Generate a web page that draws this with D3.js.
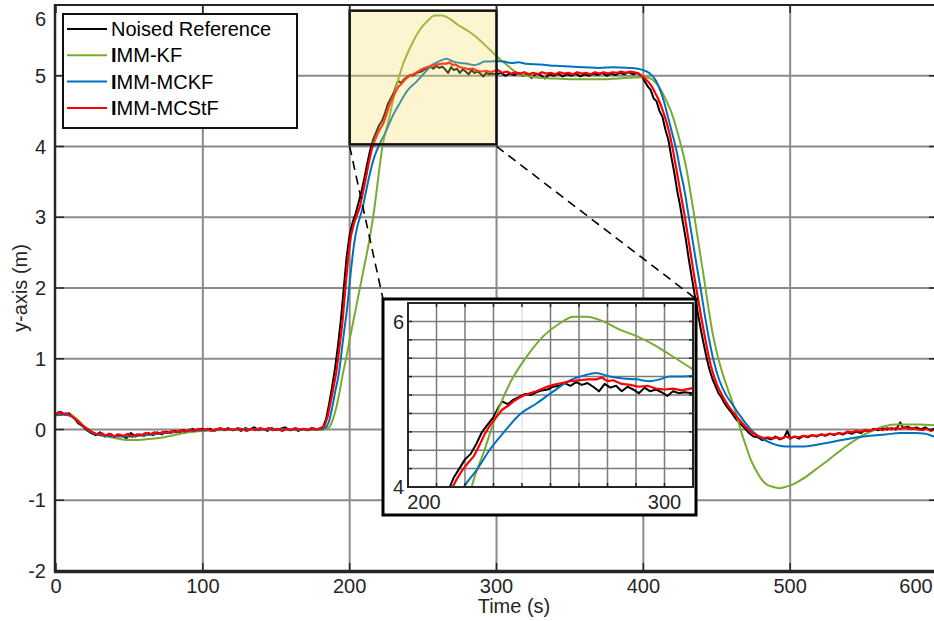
<!DOCTYPE html>
<html>
<head>
<meta charset="utf-8">
<script src="https://cdn.jsdelivr.net/npm/d3@7"></script>
<style>
  html, body { margin: 0; padding: 0; background: #fff; }
  svg { display: block; font-family: "Liberation Sans", Arial, Helvetica, sans-serif; }
</style>
</head>
<body>
<svg id="chart" width="934" height="621"></svg>
<script>
// DATA (time in s, y-axis in m)

const xTicks = [0, 100, 200, 300, 400, 500, 600];
const yTicks = [-2, -1, 0, 1, 2, 3, 4, 5, 6];

const seriesNames = ["Noised Reference", "IMM-KF", "IMM-MCKF", "IMM-MCStF"];

const noisedRef = [
  [0,.22],[3,.25],[6,.21],[9,.23],[12,.17],[15,.09],[18,.05],[21,-.01],[24,-.05],[27,-.08],[30,-.04],
  [33,-.1],[36,-.06],[39,-.11],[42,-.07],[45,-.09],[48,-.12],[51,-.05],[54,-.1],[57,-.07],[60,-.09],
  [63,-.05],[66,-.08],[69,-.04],[72,-.07],[75,-.03],[78,-.05],[81,-.02],[84,-.04],[87,-.01],[90,-.03],
  [93,.01],[96,-.02],[99,.01],[102,-.01],[105,.01],[108,-.02],[111,.01],[114,-.01],[117,.02],[120,-.01],
  [123,.01],[126,-.02],[129,.02],[132,0],[135,.03],[138,-.01],[141,.01],[144,-.02],[147,.02],[150,-.01],
  [153,.01],[156,.03],[159,-.01],[162,.01],[165,-.02],[168,.01],[171,-.01],[174,.02],[177,0],[180,.02],
  [182,.04],[184,.15],[186,.36],[188,.6],[190,.86],[192,1.18],[194,1.55],[196,2.0],[198,2.45],[200,2.75],
  [202,2.93],[204,3.05],[206,3.2],[208,3.36],[210,3.55],[212,3.76],[214,3.95],[216,4.1],[218,4.2],[220,4.3],
  [222,4.36],[224,4.47],[226,4.6],[228,4.68],[230,4.76],[232,4.88],[233,4.93],[235,4.9],[237,4.95],[239,4.98],
  [241,5.01],[243,5.0],[245,5.03],[247,5.05],[249,5.06],[251,5.09],[253,5.1],[255,5.13],[257,5.1],[259,5.14],
  [261,5.11],[263,5.13],[265,5.09],[267,5.04],[269,5.12],[271,5.08],[273,5.1],[275,5.04],[277,5.09],[279,5.06],
  [281,5.02],[283,5.08],[285,5.04],[287,5.06],[289,5.03],[291,4.99],[293,5.04],[295,5.02],[297,5.03],[300,5.02],
  [303,5.04],[306,5.0],[309,5.03],[312,5.01],[315,5.04],[318,5.0],[321,5.02],[324,4.97],[327,5.03],[330,5.01],
  [333,4.96],[336,5.02],[339,5.0],[342,5.03],[345,4.99],[348,5.02],[351,5.0],[354,5.03],[357,4.99],[360,5.02],
  [363,5.0],[366,5.03],[369,5.01],[372,5.04],[375,5.0],[378,5.03],[381,5.01],[384,5.04],[387,5.02],[390,5.05],
  [393,5.02],[396,5.04],[399,4.99],[401,4.92],[403,4.85],[405,4.8],[407,4.68],[409,4.64],[411,4.5],[413,4.42],
  [415,4.24],[417,4.1],[419,3.86],[421,3.64],[423,3.38],[425,3.17],[427,2.92],[429,2.68],[431,2.4],[433,2.15],
  [435,1.9],[437,1.66],[439,1.43],[441,1.22],[443,1.02],[445,.85],[447,.72],[449,.62],[451,.52],[453,.46],
  [455,.38],[457,.32],[460,.24],[463,.15],[466,.08],[469,.02],[472,-.05],[475,-.1],[478,-.11],[481,-.15],
  [484,-.12],[487,-.14],[490,-.1],[493,-.14],[496,-.11],[498,-.02],[500,-.13],[503,-.1],[506,-.13],[509,-.09],
  [512,-.11],[515,-.08],[518,-.1],[521,-.07],[524,-.09],[527,-.06],[530,-.08],[533,-.05],[536,-.07],[539,-.04],
  [542,-.06],[545,-.03],[548,-.05],[551,-.01],[554,-.03],[557,.01],[560,-.01],[563,.02],[566,0],[569,.02],
  [572,0],[575,.1],[577,.02],[580,.04],[583,.01],[586,.03],[589,0],[592,.03],[595,-.01],[598,.01]
];

const immKF = [
  [0,.2],[5,.22],[10,.21],[15,.13],[20,.03],[25,-.04],[30,-.08],[35,-.1],[40,-.12],[45,-.14],[50,-.15],
  [55,-.15],[60,-.14],[70,-.12],[80,-.08],[90,-.04],[100,-.02],[110,-.01],[120,0],[150,0],[180,0],
  [184,.01],[186.4,.04],[188.5,.14],[191,.32],[193,.52],[195.5,.8],[198,1.05],[200,1.27],[204.5,1.74],
  [209,2.21],[213.6,2.7],[217,3.15],[219.7,3.6],[222.5,4.02],[226.5,4.37],[230.6,4.75],[235.8,5.13],
  [241.7,5.42],[247.5,5.64],[253.3,5.78],[258,5.85],[262.7,5.85],[268.5,5.8],[274.3,5.71],[280.2,5.64],
  [286,5.55],[291.8,5.44],[299.4,5.29],[303,5.22],[306.7,5.16],[310,5.1],[313,5.05],[320,5.0],[330,4.97],
  [340,4.96],[350,4.95],[370,4.95],[390,4.97],[400,4.98],[405,4.96],[408.6,4.9],[412,4.8],[415.4,4.66],
  [418.8,4.5],[422.2,4.28],[425.6,4.02],[429,3.72],[432.5,3.3],[435.8,2.87],[441.5,2.11],[447.2,1.36],
  [450.5,1.05],[454,.79],[457.4,.58],[460.8,.38],[463.5,.2],[466.5,-.02],[470,-.24],[473,-.42],[476.6,-.57],
  [480,-.69],[483.5,-.77],[488,-.81],[492.5,-.83],[497,-.81],[501.6,-.78],[506,-.73],[510.7,-.67],[517,-.57],
  [524.3,-.46],[531,-.35],[537.9,-.24],[545,-.14],[551.5,-.06],[558,0],[565,.05],[572,.07],[578.7,.07],
  [588,.07],[598,.06]
];

const immMCKF = [
  [0,.2],[5,.21],[10,.19],[15,.11],[20,.02],[25,-.05],[30,-.08],[35,-.09],[40,-.1],[45,-.1],[50,-.1],
  [55,-.09],[60,-.08],[70,-.06],[80,-.04],[90,-.02],[100,-.01],[110,0],[130,0],[150,0],[170,0],[180,0],
  [183,.02],[186,.12],[188,.3],[190,.52],[192.7,.8],[195.5,1.27],[198.4,1.74],[200.7,2.21],[203,2.62],
  [205,2.85],[207,3.0],[209,3.15],[211,3.35],[213.6,3.6],[216,3.8],[218.6,3.95],[220.7,4.05],[224.2,4.19],
  [228.8,4.41],[233.5,4.59],[239.3,4.79],[245.2,4.91],[251,5.04],[256.8,5.16],[261.5,5.21],[266,5.24],
  [270.8,5.2],[275.5,5.18],[280.2,5.17],[284.8,5.15],[288.3,5.17],[291.8,5.2],[296,5.2],[300,5.21],
  [305,5.2],[310,5.18],[315,5.19],[320,5.17],[330,5.16],[340,5.14],[350,5.13],[360,5.12],[370,5.11],
  [380,5.12],[390,5.11],[396,5.1],[400,5.08],[404,5.04],[408,4.95],[411,4.82],[414,4.64],[417,4.4],
  [420,4.16],[422.5,3.95],[425,3.68],[428,3.38],[431,3.0],[433.5,2.68],[436,2.36],[439.2,1.97],[442,1.6],
  [445,1.25],[448,.96],[451.7,.7],[456,.5],[460.8,.35],[465,.22],[470,.08],[475,-.04],[481,-.13],
  [488,-.2],[497,-.24],[510,-.24],[520,-.21],[530,-.17],[540,-.13],[550,-.1],[565,-.07],[575,-.05],
  [585,-.05],[592,-.06],[598,-.1]
];

const immMCStF = [
  [0,.2],[2,.25],[4,.22],[7,.23],[10,.2],[13,.15],[16,.1],[19,.04],[22,0],[25,-.04],[28,-.07],[31,-.05],
  [34,-.09],[37,-.06],[40,-.1],[43,-.07],[46,-.09],[49,-.06],[52,-.1],[55,-.07],[58,-.08],[61,-.05],
  [64,-.07],[67,-.04],[70,-.06],[73,-.03],[76,-.05],[79,-.02],[82,-.04],[85,-.01],[88,-.03],[91,0],
  [94,-.02],[97,.01],[100,-.01],[103,.01],[106,-.02],[109,0],[112,.02],[115,-.01],[118,.01],[121,-.01],
  [124,.02],[127,0],[130,-.02],[133,.01],[136,-.01],[139,.02],[142,0],[145,.02],[148,-.01],[151,.01],
  [154,-.02],[157,.01],[160,-.01],[163,.02],[166,0],[169,.01],[172,-.01],[175,.02],[178,0],[181,.02],
  [183,.06],[185,.18],[187,.38],[189,.6],[191,.82],[193,1.15],[195,1.5],[197,1.98],[199,2.45],[201,2.75],
  [203,2.92],[205,3.03],[207,3.15],[209,3.35],[211,3.55],[213,3.77],[215,3.96],[217,4.08],[219,4.18],
  [221,4.26],[223,4.33],[225,4.45],[227,4.58],[229,4.68],[231,4.76],[233,4.84],[235,4.88],[237,4.93],
  [239,4.97],[241,5.0],[243,5.02],[245,5.04],[248,5.08],[251,5.11],[254,5.13],[257,5.15],[260,5.16],
  [263,5.17],[266,5.17],[268,5.19],[270,5.15],[272,5.16],[275,5.12],[278,5.11],[281,5.09],[284,5.1],
  [287,5.07],[290,5.06],[293,5.07],[296,5.05],[299,5.07],[301,5.08],[304,5.04],[307,5.06],[310,5.03],
  [313,5.05],[316,5.03],[319,5.05],[322,5.02],[325,5.04],[328,5.02],[331,5.05],[334,5.03],[337,5.04],
  [340,5.02],[343,5.05],[346,5.03],[349,5.04],[352,5.02],[355,5.05],[358,5.03],[361,5.04],[364,5.02],
  [367,5.05],[370,5.03],[373,5.05],[376,5.03],[379,5.05],[382,5.04],[385,5.06],[388,5.04],[391,5.06],
  [394,5.05],[397,5.03],[400,4.98],[402,4.94],[404,4.9],[406,4.84],[408,4.76],[410,4.68],[412,4.58],
  [414,4.46],[416,4.33],[418,4.17],[420,3.97],[422,3.74],[424,3.5],[426,3.27],[428,3.04],[430,2.78],
  [432,2.52],[434,2.25],[436,2.0],[438,1.76],[440,1.52],[442,1.3],[444,1.08],[446,.9],[448,.76],[450,.64],
  [452,.55],[454,.47],[456,.4],[458,.33],[461,.25],[464,.17],[467,.1],[470,.03],[473,-.03],[476,-.07],
  [479,-.1],[482,-.12],[485,-.11],[488,-.13],[491,-.11],[494,-.13],[497,-.1],[500,-.12],[503,-.1],
  [506,-.11],[509,-.09],[512,-.1],[515,-.08],[518,-.09],[521,-.07],[524,-.08],[527,-.06],[530,-.07],
  [533,-.05],[536,-.06],[539,-.03],[542,-.04],[545,-.02],[548,-.03],[551,-.01],[554,-.02],[557,0],
  [560,.01],[563,-.01],[566,.02],[569,0],[572,.02],[575,.01],[578,.03],[581,.01],[584,.02],[587,0],
  [590,-.01],[593,.01],[596,-.02],[598,0]
];

// zoomed region (highlight box in the main axes, and the inset window)
const zoomBoxX = [200, 300];
const zoomBoxY = [4.03, 5.92];
const insetX = [200, 300];
const insetY = [4, 6];
const insetGridX = [210, 220, 230, 240, 250, 260, 270, 280, 290];
const insetGridY = [4.2, 4.4, 4.6, 4.8, 5.0, 5.2, 5.4, 5.6, 5.8];
const insetXLabels = [{ v: 205.6, text: "200" }, { v: 290, text: "300" }];
const insetYLabels = [{ v: 4, text: "4" }, { v: 5.8, text: "6" }];

// SETUP

const svg = d3.select("#chart");
const TXT = "#262626";
const GRID = "#8a8a8a";

const x = d3.scaleLinear().domain([0, 600]).range([56, 937]);
const y = d3.scaleLinear().domain([-2, 6]).range([571, 5]);

const series = [
  { name: seriesNames[0], data: noisedRef, color: "#000000", width: 2, curve: d3.curveLinear },
  { name: seriesNames[1], data: immKF, color: "#77AC30", width: 2, curve: d3.curveMonotoneX },
  { name: seriesNames[2], data: immMCKF, color: "#0072BD", width: 2, curve: d3.curveMonotoneX },
  { name: seriesNames[3], data: immMCStF, color: "#FF0000", width: 2.2, curve: d3.curveLinear },
];

svg.append("rect").attr("width", 934).attr("height", 621).attr("fill", "#fff");

const defs = svg.append("defs");
defs.append("clipPath").attr("id", "plot-clip")
  .append("rect").attr("x", 56).attr("y", 5).attr("width", 881).attr("height", 566);

// MAIN AXES

const gGrid = svg.append("g");
xTicks.filter(t => t > 0 && t < 600).forEach(t => {
  gGrid.append("line")
    .attr("x1", x(t)).attr("x2", x(t)).attr("y1", y(6)).attr("y2", y(-2))
    .attr("stroke", GRID).attr("stroke-width", 2);
});
yTicks.filter(v => v > -2 && v < 6).forEach(v => {
  gGrid.append("line")
    .attr("x1", x(0)).attr("x2", x(600)).attr("y1", y(v)).attr("y2", y(v))
    .attr("stroke", GRID).attr("stroke-width", 2);
});

const gLines = svg.append("g").attr("clip-path", "url(#plot-clip)");
series.forEach(s => {
  const line = d3.line().x(d => x(d[0])).y(d => y(d[1])).curve(s.curve);
  gLines.append("path")
    .attr("d", line(s.data))
    .attr("fill", "none")
    .attr("stroke", s.color)
    .attr("stroke-width", s.width)
    .attr("stroke-linejoin", "round");
});

// highlight box over the zoomed region
svg.append("rect")
  .attr("x", x(zoomBoxX[0])).attr("y", y(zoomBoxY[1]))
  .attr("width", x(zoomBoxX[1]) - x(zoomBoxX[0]))
  .attr("height", y(zoomBoxY[0]) - y(zoomBoxY[1]))
  .attr("fill", "rgb(250,217,100)").attr("fill-opacity", 0.3)
  .attr("stroke", "#111").attr("stroke-width", 2.5);

// spines + ticks
const gAxes = svg.append("g");
gAxes.append("line").attr("x1", 55).attr("x2", 934).attr("y1", 5).attr("y2", 5)
  .attr("stroke", TXT).attr("stroke-width", 2);
gAxes.append("line").attr("x1", 55).attr("x2", 55).attr("y1", 4).attr("y2", 572)
  .attr("stroke", TXT).attr("stroke-width", 2.5);
gAxes.append("line").attr("x1", 54).attr("x2", 934).attr("y1", 571.5).attr("y2", 571.5)
  .attr("stroke", TXT).attr("stroke-width", 3.5);

yTicks.forEach(v => {
  gAxes.append("line").attr("x1", 56).attr("x2", 64).attr("y1", y(v)).attr("y2", y(v))
    .attr("stroke", TXT).attr("stroke-width", 1.5);
  gAxes.append("line").attr("x1", 929).attr("x2", 937).attr("y1", y(v)).attr("y2", y(v))
    .attr("stroke", TXT).attr("stroke-width", 1.5);
  // the top label sits a little lower so it stays inside the picture
  gAxes.append("text")
    .attr("x", 46).attr("y", Math.max(y(v), 19)).attr("dy", "0.36em")
    .attr("text-anchor", "end").attr("font-size", 20).attr("fill", TXT)
    .text(v);
});
xTicks.forEach(t => {
  gAxes.append("line").attr("x1", x(t)).attr("x2", x(t)).attr("y1", 563).attr("y2", 571)
    .attr("stroke", TXT).attr("stroke-width", 1.5);
  gAxes.append("line").attr("x1", x(t)).attr("x2", x(t)).attr("y1", 5).attr("y2", 13)
    .attr("stroke", TXT).attr("stroke-width", 1.5);
  gAxes.append("text")
    .attr("x", Math.min(x(t), 916)).attr("y", 593)
    .attr("text-anchor", "middle").attr("font-size", 20).attr("fill", TXT)
    .text(t);
});

svg.append("text")
  .attr("x", 514).attr("y", 613)
  .attr("text-anchor", "middle").attr("font-size", 20).attr("fill", TXT)
  .text("Time (s)");
svg.append("text")
  .attr("transform", "translate(27,288) rotate(-90)")
  .attr("text-anchor", "middle").attr("font-size", 20).attr("fill", TXT)
  .text("y-axis (m)");

// LEGEND

const gLeg = svg.append("g");
gLeg.append("rect")
  .attr("x", 63).attr("y", 14).attr("width", 234).attr("height", 114)
  .attr("fill", "#fff").attr("stroke", "#111").attr("stroke-width", 2);
series.forEach((s, i) => {
  const cy = 29 + i * 26.3;
  gLeg.append("line").attr("x1", 67).attr("x2", 107).attr("y1", cy).attr("y2", cy)
    .attr("stroke", s.color).attr("stroke-width", 2);
  const t = gLeg.append("text")
    .attr("x", 111).attr("y", cy + 7).attr("font-size", 20).attr("fill", "#000");
  if (s.name.startsWith("IMM")) {
    t.append("tspan").attr("font-weight", "bold").text("I");
    t.append("tspan").text(s.name.slice(1));
  } else {
    t.text(s.name);
  }
});

// INSET (magnified view of the highlighted region)

const inset = { ox: 383, oy: 299, ow: 313, oh: 216, left: 408, right: 693, top: 303, bottom: 487 };
const ix = d3.scaleLinear().domain(insetX).range([inset.left, inset.right]);
const iy = d3.scaleLinear().domain(insetY).range([inset.bottom, inset.top]);

// dashed connectors from the box corners to the inset corners
const gConn = svg.append("g");
[[x(zoomBoxX[0]), inset.ox], [x(zoomBoxX[1]), inset.ox + inset.ow]].forEach(([fx, tx]) => {
  gConn.append("line")
    .attr("x1", fx).attr("y1", y(zoomBoxY[0]) + 2)
    .attr("x2", tx).attr("y2", inset.oy)
    .attr("stroke", "#000").attr("stroke-width", 1.6)
    .attr("stroke-dasharray", "9,6");
});

defs.append("clipPath").attr("id", "inset-clip")
  .append("rect").attr("x", inset.left).attr("y", inset.top)
  .attr("width", inset.right - inset.left).attr("height", inset.bottom - inset.top);

const gIn = svg.append("g");
gIn.append("rect")
  .attr("x", inset.ox).attr("y", inset.oy).attr("width", inset.ow).attr("height", inset.oh)
  .attr("fill", "#fff").attr("stroke", "#000").attr("stroke-width", 3);

insetGridX.forEach(t => {
  gIn.append("line")
    .attr("x1", ix(t)).attr("x2", ix(t)).attr("y1", inset.top).attr("y2", inset.bottom)
    .attr("stroke", t === 240 ? "#e4e4e4" : "#7a7a7a").attr("stroke-width", 1.5);
});
insetGridY.forEach(v => {
  gIn.append("line")
    .attr("x1", inset.left).attr("x2", inset.right).attr("y1", iy(v)).attr("y2", iy(v))
    .attr("stroke", "#7a7a7a").attr("stroke-width", 1.5);
});

const gInLines = gIn.append("g").attr("clip-path", "url(#inset-clip)");
series.forEach(s => {
  const line = d3.line().x(d => ix(d[0])).y(d => iy(d[1])).curve(s.curve);
  const part = s.data.filter(d => d[0] >= 190 && d[0] <= 312);
  gInLines.append("path")
    .attr("d", line(part))
    .attr("fill", "none")
    .attr("stroke", s.color)
    .attr("stroke-width", s.width)
    .attr("stroke-linejoin", "round");
});

gIn.append("rect")
  .attr("x", inset.left).attr("y", inset.top)
  .attr("width", inset.right - inset.left).attr("height", inset.bottom - inset.top)
  .attr("fill", "none").attr("stroke", TXT).attr("stroke-width", 2);

insetGridX.forEach(t => {
  gIn.append("line").attr("x1", ix(t)).attr("x2", ix(t)).attr("y1", inset.top).attr("y2", inset.top + 4)
    .attr("stroke", TXT).attr("stroke-width", 1.5);
  gIn.append("line").attr("x1", ix(t)).attr("x2", ix(t)).attr("y1", inset.bottom - 4).attr("y2", inset.bottom)
    .attr("stroke", TXT).attr("stroke-width", 1.5);
});
insetGridY.forEach(v => {
  gIn.append("line").attr("x1", inset.left).attr("x2", inset.left + 4).attr("y1", iy(v)).attr("y2", iy(v))
    .attr("stroke", TXT).attr("stroke-width", 1.5);
  gIn.append("line").attr("x1", inset.right - 4).attr("x2", inset.right).attr("y1", iy(v)).attr("y2", iy(v))
    .attr("stroke", TXT).attr("stroke-width", 1.5);
});

insetXLabels.forEach(l => {
  gIn.append("text")
    .attr("x", ix(l.v)).attr("y", 509)
    .attr("text-anchor", "middle").attr("font-size", 20).attr("fill", TXT)
    .text(l.text);
});
insetYLabels.forEach(l => {
  gIn.append("text")
    .attr("x", 404).attr("y", iy(l.v)).attr("dy", "0.36em")
    .attr("text-anchor", "end").attr("font-size", 20).attr("fill", TXT)
    .text(l.text);
});
</script>
</body>
</html>
